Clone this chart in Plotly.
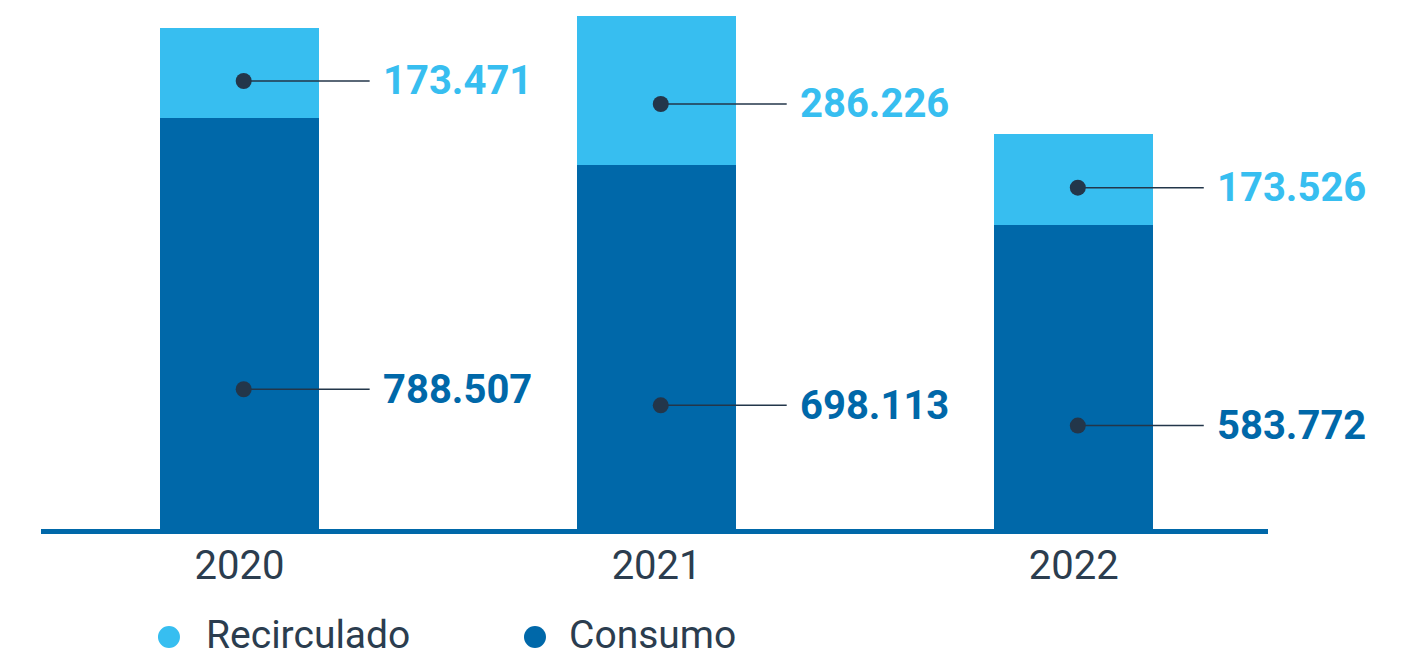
import plotly.graph_objects as go

years = ["2020", "2021", "2022"]
consumo = [788.507, 698.113, 583.772]
recirculado = [173.471, 286.226, 173.526]
consumo_labels = ["788.507", "698.113", "583.772"]
recirculado_labels = ["173.471", "286.226", "173.526"]
series_names = ["Recirculado", "Consumo"]

LIGHT = "#37BEF0"
DARK = "#0068A9"
DOT = "#23364A"
TXT = "#2B3D4F"

xs = list(range(len(years)))
fig = go.Figure()
fig.add_trace(go.Bar(x=xs, y=consumo, name=series_names[1], marker_color=DARK, width=0.381,
                     marker_line_width=0, showlegend=False, hoverinfo="skip"))
fig.add_trace(go.Bar(x=xs, y=recirculado, name=series_names[0], marker_color=LIGHT, width=0.381,
                     marker_line_width=0, showlegend=False, hoverinfo="skip"))

DOT_OFF, LINE_END, TEXT_OFF = 0.01, 0.312, 0.34
for i in xs:
    y_dark = consumo[i] * 0.34
    y_light = consumo[i] + recirculado[i] * 0.41
    for yy, lab, col in [(y_dark, consumo_labels[i], DARK), (y_light, recirculado_labels[i], LIGHT)]:
        fig.add_trace(go.Scatter(x=[i + DOT_OFF, i + LINE_END], y=[yy, yy], mode="lines",
                                 line=dict(color=DOT, width=1.5), showlegend=False, hoverinfo="skip"))
        fig.add_trace(go.Scatter(x=[i + DOT_OFF], y=[yy], mode="markers",
                                 marker=dict(color=DOT, size=16), showlegend=False, hoverinfo="skip"))
        fig.add_annotation(x=i + TEXT_OFF, y=yy, text="<b>" + lab + "</b>", showarrow=False,
                           xanchor="left", yanchor="middle",
                           font=dict(family="Roboto", size=40, color=col))

# legend drawn below the axis: circle + label
legend_items = [(series_names[0], LIGHT, 0.1043, 0.1329), (series_names[1], DARK, 0.4026, 0.4287)]
for name, col, cx, tx in legend_items:
    fig.add_shape(type="circle", xref="paper", yref="paper",
                  xsizemode="pixel", ysizemode="pixel", xanchor=cx, yanchor=-0.2042,
                  x0=-11, x1=11, y0=-11, y1=11, fillcolor=col, line=dict(width=0))
    fig.add_annotation(xref="paper", yref="paper", x=tx, y=-0.2476, text=name,
                       showarrow=False, xanchor="left", yanchor="bottom",
                       font=dict(family="Roboto", size=39, color=TXT))

fig.update_layout(
    width=1415, height=661,
    barmode="stack",
    showlegend=False,
    plot_bgcolor="white", paper_bgcolor="white",
    margin=dict(l=41, r=147, t=0, b=132, autoexpand=False),
    font=dict(family="Roboto", color=TXT),
    xaxis=dict(range=[-0.476, 2.466], tickmode="array", tickvals=xs, ticktext=years,
               showgrid=False, zeroline=False, showline=True, linecolor=DARK, linewidth=5,
               ticks="", tickfont=dict(family="Roboto", size=40, color=TXT),
               ticklabelstandoff=-3),
    yaxis=dict(range=[0, 1015], visible=False, showgrid=False, zeroline=False),
)

fig.write_html("out.html", config={"displayModeBar": False},
               post_script="document.body.style.margin='0';document.body.style.overflow='hidden';")
